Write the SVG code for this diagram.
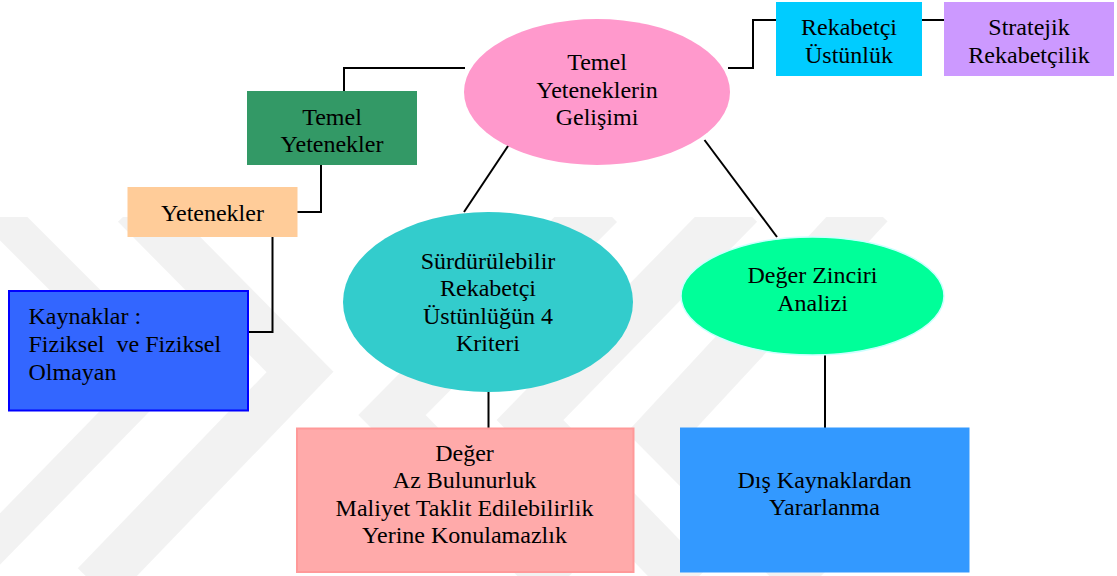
<svg xmlns="http://www.w3.org/2000/svg" width="1117" height="576" viewBox="0 0 1117 576">
  <style>
    text { font-family: "Liberation Serif", Tinos, "Times New Roman", "DejaVu Serif", serif; font-size: 24px; fill: #000; }
    .mid { text-anchor: middle; }
    .wire { fill: none; stroke: #000; stroke-width: 2; }
    .wm { fill: none; stroke: #000; stroke-opacity: 0.05; stroke-linejoin: miter; }
  </style>
  <defs>
    <clipPath id="wmClip">
      <rect x="0" y="217" width="1117" height="359"/>
    </clipPath>
  </defs>

  <rect x="0" y="0" width="1117" height="576" fill="#fff"/>

  <!-- faint background emblem -->
  <g id="emblem" clip-path="url(#wmClip)">
    <path class="wm" stroke-width="36" d="M -10 205 L 160 375 L -40 580"/>
    <path class="wm" stroke-width="48" d="M 135 205 L 300 372 L 95 585"/>
    <path class="wm" stroke-width="48" d="M 600 205 L 392 415 L 560 585"/>
    <path class="wm" stroke-width="48" d="M 740 205 L 530 420 L 690 585"/>
    <path class="wm" stroke-width="48" d="M 870 205 L 660 432 L 812 585"/>
  </g>

  <!-- connectors -->
  <g id="connectors">
    <polyline class="wire" points="465,68 344,68 344,91"/>
    <polyline class="wire" points="321,165 321,212 297,212"/>
    <polyline class="wire" points="272.5,237 272.5,332 249,332"/>
    <line class="wire" x1="512" y1="140" x2="464" y2="212"/>
    <line class="wire" x1="488.5" y1="392" x2="488.5" y2="428"/>
    <line class="wire" x1="704.5" y1="140" x2="777" y2="237"/>
    <line class="wire" x1="825" y1="355" x2="825" y2="428"/>
    <polyline class="wire" points="728,68 753,68 753,20 776,20"/>
    <line class="wire" x1="921" y1="20" x2="944" y2="20"/>
  </g>

  <g id="temel-yeteneklerin-gelisimi">
    <ellipse cx="597" cy="92" rx="133" ry="73" fill="#ff99cc"/>
    <text class="mid" x="597" y="70">Temel</text>
    <text class="mid" x="597" y="97.5">Yeteneklerin</text>
    <text class="mid" x="597" y="125">Gelişimi</text>
  </g>

  <g id="temel-yetenekler">
    <rect x="247" y="91" width="170" height="74" fill="#339966"/>
    <text class="mid" x="332" y="124.5">Temel</text>
    <text class="mid" x="332" y="152">Yetenekler</text>
  </g>

  <g id="yetenekler">
    <rect x="127.5" y="187" width="170" height="50" fill="#ffcc99"/>
    <text class="mid" x="212.5" y="221">Yetenekler</text>
  </g>

  <g id="kaynaklar">
    <rect x="9" y="291" width="239" height="119.5" fill="#3366ff" stroke="#0000ff" stroke-width="2"/>
    <text x="28.5" y="323.5">Kaynaklar :</text>
    <text x="28.5" y="351.5" xml:space="preserve" style="white-space:pre">Fiziksel  ve Fiziksel</text>
    <text x="28.5" y="379.5">Olmayan</text>
  </g>

  <g id="rekabetci-ustunluk">
    <rect x="776" y="2" width="146" height="74" fill="#00ccff"/>
    <text class="mid" x="849" y="35">Rekabetçi</text>
    <text class="mid" x="849" y="62.5">Üstünlük</text>
  </g>

  <g id="stratejik-rekabetcilik">
    <rect x="944" y="2" width="170" height="74" fill="#cc99ff"/>
    <text class="mid" x="1029" y="35">Stratejik</text>
    <text class="mid" x="1029" y="62.5">Rekabetçilik</text>
  </g>

  <g id="surdurulebilir-rekabetci-ustunluk">
    <ellipse cx="488" cy="302" rx="145" ry="90" fill="#33cccc"/>
    <text class="mid" x="488" y="268.5">Sürdürülebilir</text>
    <text class="mid" x="488" y="296">Rekabetçi</text>
    <text class="mid" x="488" y="323.5">Üstünlüğün 4</text>
    <text class="mid" x="488" y="351">Kriteri</text>
  </g>

  <g id="deger-zinciri-analizi">
    <ellipse cx="812.5" cy="296" rx="131.5" ry="59" fill="#00ff99" stroke="#ccffff" stroke-width="1.5"/>
    <text class="mid" x="812.5" y="283">Değer Zinciri</text>
    <text class="mid" x="812.5" y="310.5">Analizi</text>
  </g>

  <g id="kriterler">
    <rect x="297" y="428.5" width="336.5" height="143.5" fill="#ffaaaa" stroke="#ff9999" stroke-width="2"/>
    <text class="mid" x="464.5" y="460.5">Değer</text>
    <text class="mid" x="464.5" y="488">Az Bulunurluk</text>
    <text class="mid" x="464.5" y="515.5">Maliyet Taklit Edilebilirlik</text>
    <text class="mid" x="464.5" y="543">Yerine Konulamazlık</text>
  </g>

  <g id="dis-kaynaklar">
    <rect x="680" y="427.5" width="289.5" height="145" fill="#3399ff"/>
    <text class="mid" x="824.5" y="487.5">Dış Kaynaklardan</text>
    <text class="mid" x="824.5" y="515">Yararlanma</text>
  </g>
</svg>
